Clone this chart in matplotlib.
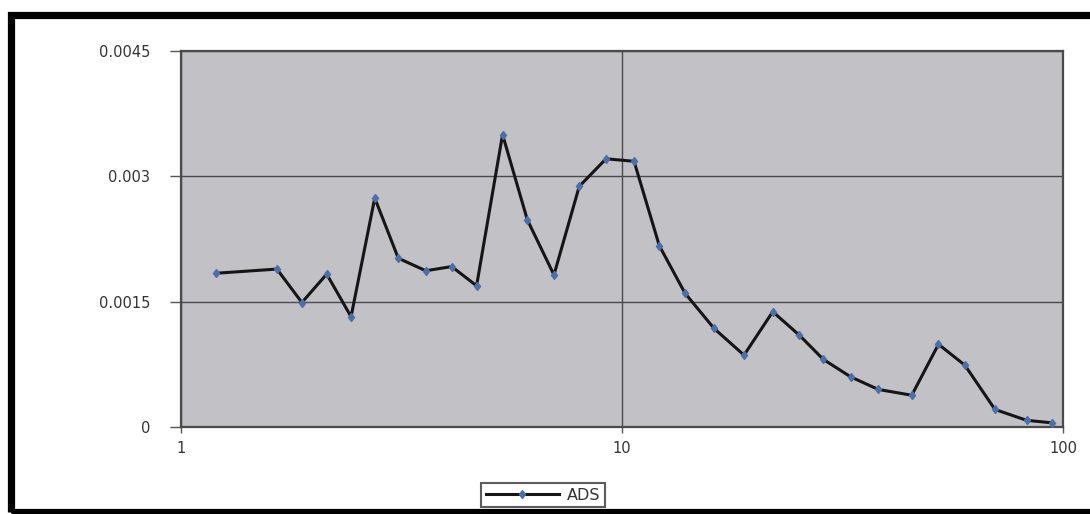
import numpy as np
import matplotlib
matplotlib.use("Agg")
import matplotlib.pyplot as plt
from matplotlib.patches import Rectangle
from matplotlib.ticker import FixedLocator, FixedFormatter, NullLocator

# ADS curve, log-spaced x
x_vals = [1.20, 1.65, 1.88, 2.14, 2.43, 2.75, 3.11, 3.59, 4.11, 4.68,
          5.36, 6.10, 7.01, 8.00, 9.20, 10.65, 12.15, 13.9, 16.17, 18.91,
          21.97, 25.23, 28.6, 33.0, 38.1, 45.4, 52.2, 59.9, 70.1, 82.7, 94.3]
ads = [0.00184, 0.00189, 0.00149, 0.00183, 0.00132, 0.00274, 0.00202, 0.00187,
       0.00192, 0.00169, 0.00350, 0.00248, 0.00182, 0.00288, 0.00321, 0.00318,
       0.00217, 0.00160, 0.00118, 0.00086, 0.00138, 0.00110, 0.00081, 0.00060,
       0.00045, 0.00038, 0.00099, 0.00074, 0.00021, 0.00008, 0.00005]

y_ticks = [0, 0.0015, 0.003, 0.0045]
y_labels = ["0", "0.0015", "0.003", "0.0045"]
x_ticks = [1, 10, 100]
x_labels = ["1", "10", "100"]

plt.rcParams['font.family'] = ['DejaVu Sans']

W, H = 1090, 514
fig = plt.figure(figsize=(W/100, H/100), dpi=100)
fig.patch.set_facecolor('white')

ax = fig.add_axes([181/W, 1-427/H, (1063-181)/W, (427-51)/H])
ax.set_facecolor('#c2c1c6')

ax.plot(x_vals, ads, color='#151515', lw=2.2, marker='d', ms=4.5,
        mfc='#4d6fa8', mec='#4d6fa8', label='ADS', zorder=3)

ax.set_xscale('log')
ax.set_xlim(1, 100)
ax.set_ylim(0, 0.0045)
ax.xaxis.set_major_locator(FixedLocator(x_ticks))
ax.xaxis.set_major_formatter(FixedFormatter(x_labels))
ax.xaxis.set_minor_locator(NullLocator())
ax.yaxis.set_major_locator(FixedLocator(y_ticks))
ax.yaxis.set_major_formatter(FixedFormatter(y_labels))

ax.grid(True, which='major', color='#4a4a4a', lw=1.0)
ax.set_axisbelow(True)
for s in ax.spines.values():
    s.set_color('#4a4a4a')
    s.set_linewidth(1.6)

ax.tick_params(axis='y', length=8, width=1, color='#555555', pad=14,
               labelsize=10.5, labelcolor='#333333')
ax.tick_params(axis='x', length=4, width=1, color='#555555', pad=6,
               labelsize=10.5, labelcolor='#333333')

leg = fig.legend(loc='center', bbox_to_anchor=(543/W, 1-495/H), fontsize=11.5,
                 frameon=True, fancybox=False, handlelength=4.6, borderpad=0.3,
                 handletextpad=0.5, borderaxespad=0)
leg.get_frame().set_edgecolor('#333333')
leg.get_frame().set_linewidth(1.5)
for t in leg.get_texts():
    t.set_color('#333333')

# thick black border round the chart
fig.patches.append(Rectangle((10.5/W, 2.5/H), 1.2, (511.5-14.5)/H,
                             transform=fig.transFigure, fill=False,
                             edgecolor='black', lw=5.2, zorder=10))

fig.savefig('out.png', dpi=100)
